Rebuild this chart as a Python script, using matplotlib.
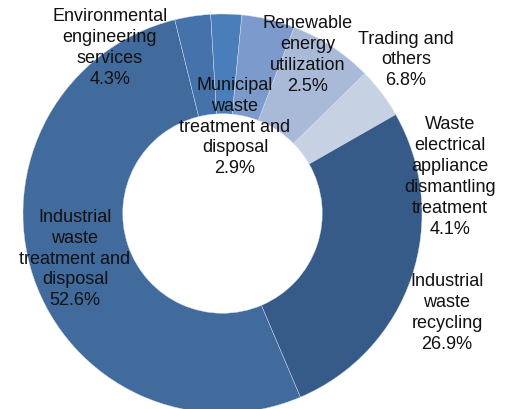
import matplotlib
matplotlib.use("Agg")
import matplotlib.pyplot as plt

# slices in drawing order (clockwise, starting at the bottom-right edge of the big slice)
names = ["Industrial waste treatment and disposal", "Municipal waste treatment and disposal",
         "Renewable energy utilization", "Environmental engineering services",
         "Trading and others", "Waste electrical appliance dismantling treatment",
         "Industrial waste recycling"]
shares = [52.6, 2.9, 2.5, 4.3, 6.8, 4.1, 26.9]
colors = ["#416A9D", "#4572AA", "#4A7EBB", "#7C9ACB", "#A9B9D8", "#C7D1E4", "#365B89"]

# label text and where it sits (px in a 506x410 picture)
labels = {
    "Environmental engineering services": ("Environmental\nengineering\nservices\n4.3%", 110, 48),
    "Municipal waste treatment and disposal": ("Municipal\nwaste\ntreatment and\ndisposal\n2.9%", 235, 127),
    "Renewable energy utilization": ("Renewable\nenergy\nutilization\n2.5%", 308, 55),
    "Trading and others": ("Trading and\nothers\n6.8%", 406, 60),
    "Waste electrical appliance dismantling treatment":
        ("Waste\nelectrical\nappliance\ndismantling\ntreatment\n4.1%", 450, 177),
    "Industrial waste recycling": ("Industrial\nwaste\nrecycling\n26.9%", 447, 313),
    "Industrial waste treatment and disposal": ("Industrial\nwaste\ntreatment and\ndisposal\n52.6%", 75, 259),
}

W, H = 506, 410
cx, cy, R = 222.5, 214.5, 199.5   # donut centre / radius in px

fig = plt.figure(figsize=(W / 100, H / 100), dpi=100)
ax = fig.add_axes([0, 0, 1, 1])
ax.pie(shares, colors=colors, radius=1, startangle=-67, counterclock=False,
       wedgeprops=dict(width=0.5, edgecolor="#d8e0ee", linewidth=0.3))
ax.set_xlim(-cx / R, (W - cx) / R)
ax.set_ylim(-(H - cy) / R, cy / R)
ax.set_aspect("equal")
ax.axis("off")

for n in names:
    txt, x, y = labels[n]
    ax.text((x - cx) / R, (cy - y) / R, txt, ha="center", va="center",
            fontsize=13, family="Liberation Sans", color="#111111", linespacing=1.3)

fig.savefig("out.png", dpi=100, facecolor="white")
